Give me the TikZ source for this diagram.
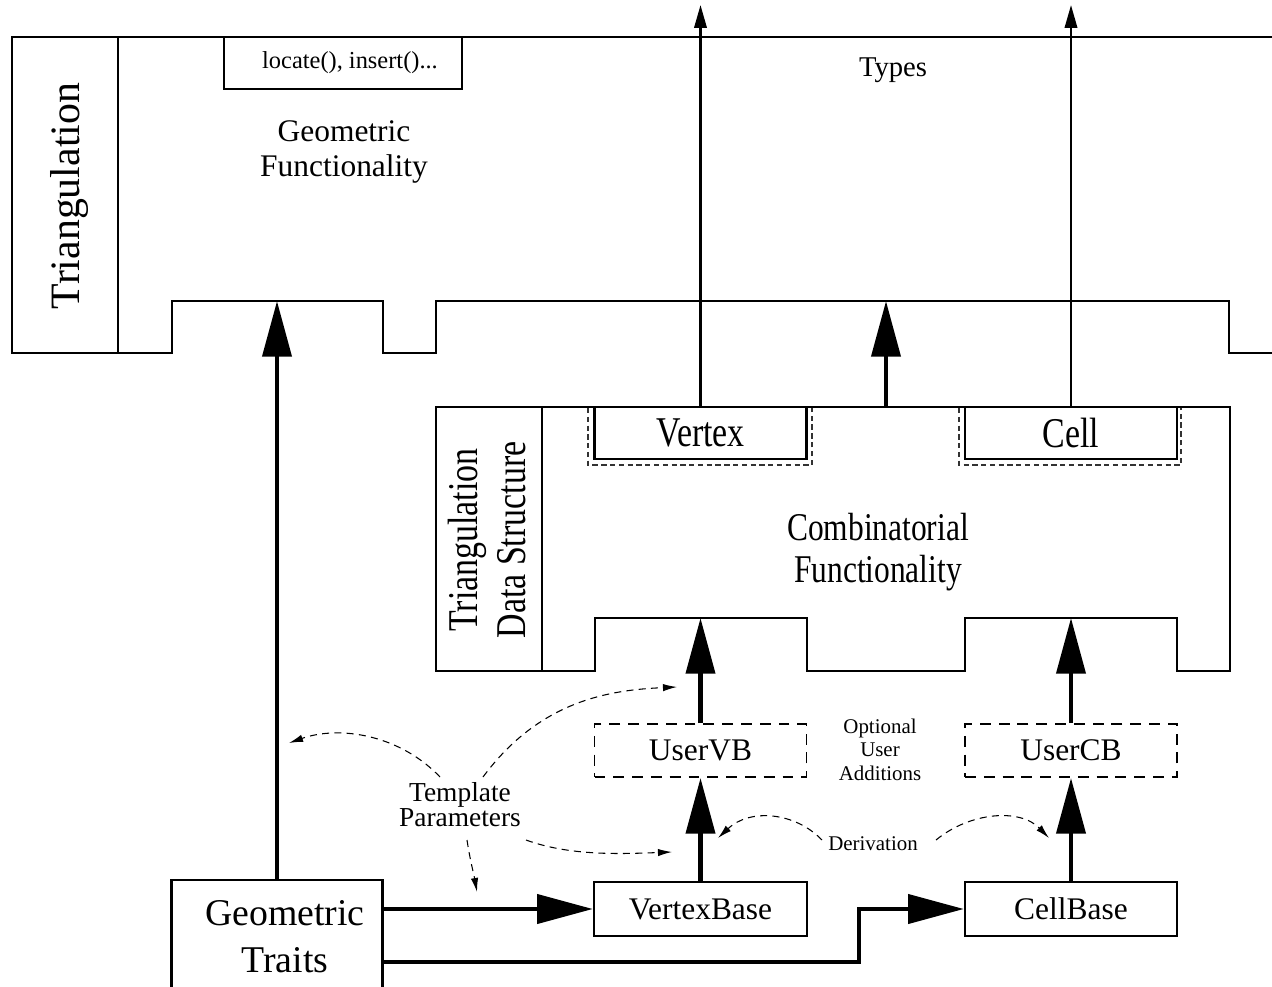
\documentclass[tikz,border=0pt]{standalone}
\usepackage{fontspec}
\setmainfont{Liberation Serif}
\usetikzlibrary{arrows.meta}
% stacked centred lines
\newcommand\stk[1]{\begin{tabular}{@{}c@{}}#1\end{tabular}}
\newcommand\fsz[2]{\fontsize{#1pt}{#2pt}\selectfont}
% glyphs drawn taller than wide (TDS part)
\newcommand\tallx[1]{\scalebox{1}[1.25]{#1}}

\begin{document}
\begin{tikzpicture}[x=0.02cm,y=-0.02cm,
  outline/.style={line width=1.3pt, line join=miter},
  divider/.style={line width=0.6pt},
  pbox/.style 2 args={draw, line width=1.3pt, minimum width=#1*0.2mm,
    minimum height=#2*0.2mm, inner sep=0pt},
  ubox/.style 2 args={pbox={#1}{#2}, line width=1.1pt, dash pattern=on 6.2pt off 4.5pt},
  halo/.style={line width=0.6pt, dash pattern=on 3pt off 2pt, draw=black!80},
  heavy/.style={line width=2.6pt, line join=miter, -{Triangle[length=31.7pt,width=16.4pt]}},
  export/.style={line width=1.4pt, -{Triangle[length=13pt,width=7pt]}},
  hint/.style={line width=0.6pt, dash pattern=on 4pt off 3pt, -{Latex[length=8pt,width=4.2pt]}},
  big/.style={font=\fsz{17.9}{19.8}},
]
\clip (0,0) rectangle (1272,987);

% ---------- Triangulation ----------
\draw[outline] (1272,37) -- (12,37) -- (12,353) -- (172,353) -- (172,301) -- (383,301)
  -- (383,353) -- (436,353) -- (436,301) -- (1229,301) -- (1229,353) -- (1272,353);
\draw[divider] (118,37) -- (118,353);
\node[rotate=90, font=\fsz{23.8}{26}, inner sep=0pt] (tri) at (70,196) {Triangulation};
\node[pbox={238}{52}] (loc) at (343,63) {};
\node[font=\fsz{13.9}{16}, inner sep=0pt] (loctxt) at (350,63) {locate(), insert()...};
\node[big, inner sep=0pt] (geo) at (344,152) {\stk{Geometric\\Functionality}};
\node[font=\fsz{16.3}{18}, inner sep=0pt] (types) at (893,70) {Types};
\coordinate (triA) at (277,301);
\coordinate (triB) at (886,301);

% ---------- Triangulation Data Structure ----------
\draw[outline] (436,407) -- (1230,407) -- (1230,671) -- (1177,671) -- (1177,618)
  -- (965,618) -- (965,671) -- (807,671) -- (807,618) -- (595,618) -- (595,671)
  -- (436,671) -- cycle;
\draw[divider] (542,407) -- (542,671);
\node[rotate=90, font=\fsz{19.3}{21.8}, inner sep=0pt] (tds) at (492,540)
  {\tallx{\stk{Triangulation\\Data Structure}}};
\draw[halo] (588,408) -- (588,465) -- (812,465) -- (812,408);
\draw[halo] (959,408) -- (959,465) -- (1181,465) -- (1181,408);
\node[pbox={212}{52}, line width=1.4pt, font=\fsz{19.3}{21}] (vtx) at (700.5,433) {\tallx{Vertex}};
\node[pbox={212}{52}, line width=1.4pt, font=\fsz{19.3}{21}] (cell) at (1071,433) {\tallx{Cell}};
\node[font=\fsz{17.9}{19.5}, inner sep=0pt] (comb) at (878,553)
  {\tallx{\stk{Combinatorial\\Functionality}}};
\coordinate (tdsTop) at (886,407);
\coordinate (tdsV) at (700.5,618);
\coordinate (tdsC) at (1071,618);
\coordinate (vOut) at (700.5,5);
\coordinate (cOut) at (1071,5);

% ---------- base classes ----------
\node[ubox={212}{53}, big] (uvb) at (700.5,750.5) {UserVB};
\node[ubox={212}{53}, big] (ucb) at (1071,750.5) {UserCB};
\node[pbox={213}{54}, big] (vb) at (700.5,909) {VertexBase};
\node[pbox={212}{54}, big] (cb) at (1071,909) {CellBase};
\node[pbox={211}{120}, font=\fsz{21.5}{26.6}] (gt) at (277,940)
  {\hspace*{3.2mm}\stk{Geometric\\Traits}};
\coordinate (lowrun) at (383,962);

\node[font=\fsz{11.9}{13.3}, inner sep=0pt] (opt) at (880,752) {\stk{Optional\\User\\Additions}};
\node[font=\fsz{15.6}{14.2}, inner sep=0pt] (tp) at (460,808) {\stk{Template\\Parameters}};
\node[font=\fsz{11.9}{13.3}, inner sep=0pt] (der) at (873,844) {Derivation};

% ---------- connectors ----------
\draw[export] (vtx.north) -- (vOut);
\draw[export] (cell.north) -- (cOut);
\draw[heavy] (tdsTop) -- (triB);
\draw[heavy] (gt.north) -- (triA);
\draw[heavy] (uvb.north) -- (tdsV);
\draw[heavy] (ucb.north) -- (tdsC);
\draw[heavy] (vb.north) -- (uvb.south);
\draw[heavy] (cb.north) -- (ucb.south);
\draw[heavy] (gt.east |- vb.west) -- (vb.west);
\draw[heavy] (lowrun) -- (859,962) |- (cb.west);

% template parameter and derivation hints
\coordinate (tpA) at (440,777);  \coordinate (tpAend) at (289,743);
\coordinate (tpB) at (483,777);  \coordinate (tpBend) at (677,687);
\coordinate (tpC) at (526,840);  \coordinate (tpCend) at (672,852);
\coordinate (tpD) at (467,840);  \coordinate (tpDend) at (477,892);
\coordinate (derL) at (822,840); \coordinate (derLend) at (718,838);
\coordinate (derR) at (936,840); \coordinate (derRend) at (1049,838);
\draw[hint] (tpA) .. controls (400,735) and (340,725) .. (tpAend);
\draw[hint] (tpB) .. controls (540,700) and (610,690) .. (tpBend);
\draw[hint] (tpC) .. controls (570,856) and (620,854) .. (tpCend);
\draw[hint] (tpD) .. controls (470,860) and (474,875) .. (tpDend);
\draw[hint] (derL) .. controls (795,812) and (750,808) .. (derLend);
\draw[hint] (derR) .. controls (970,812) and (1020,808) .. (derRend);
\end{tikzpicture}
\end{document}
